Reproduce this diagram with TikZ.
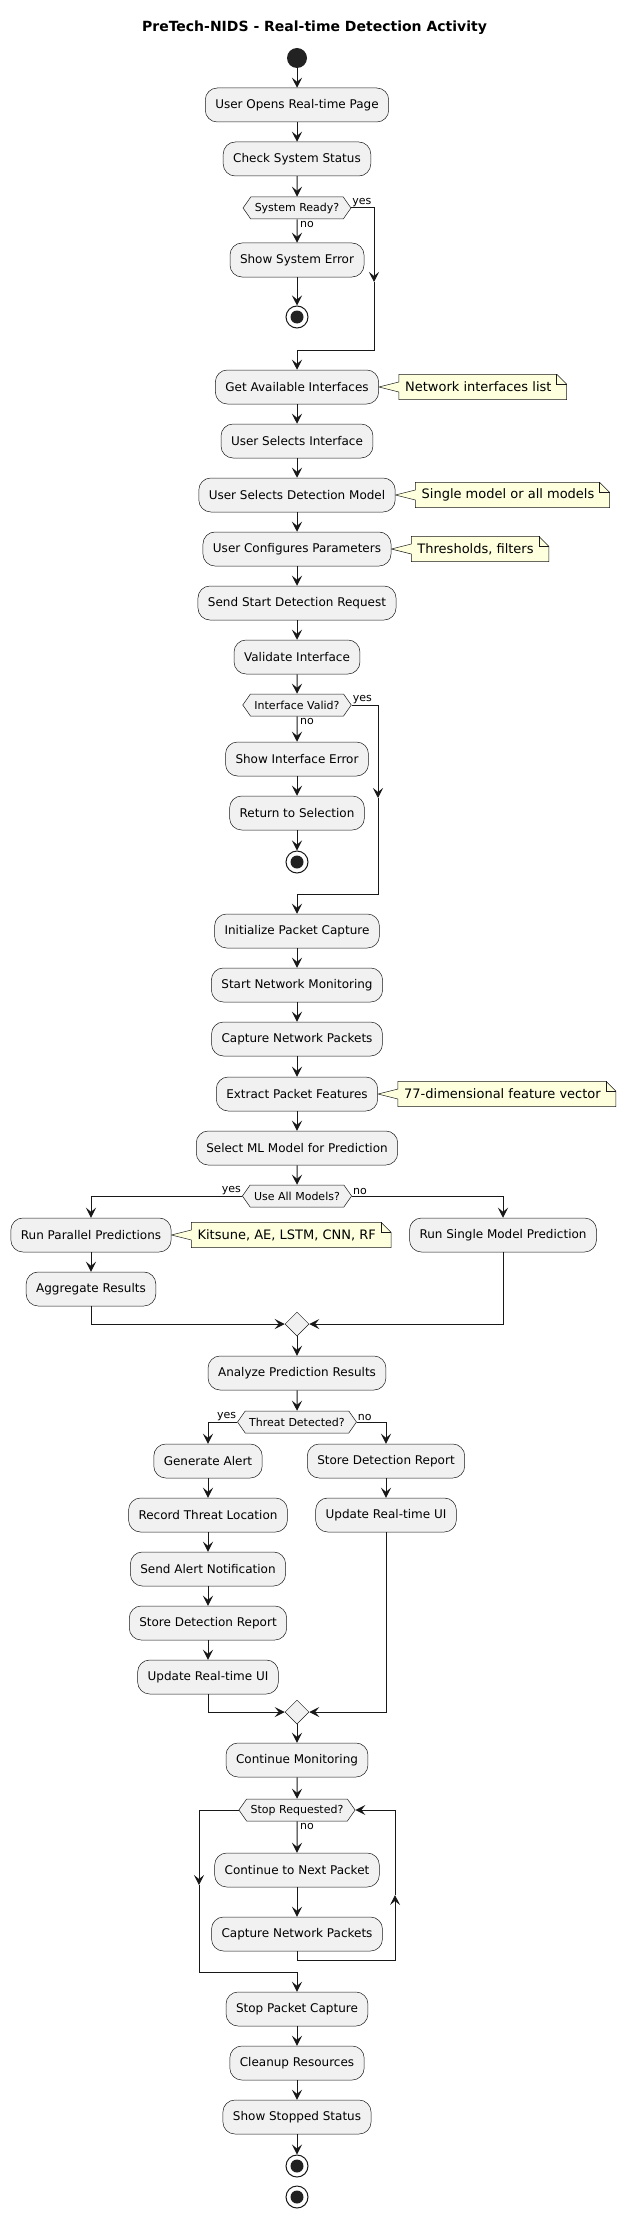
\documentclass[tikz,border=0pt]{standalone}
\usepackage{fontspec}
\setmainfont{DejaVu Sans}
\usepackage{xcolor}
\usepackage{tikz}
\usetikzlibrary{shapes.geometric, shapes.symbols, arrows.meta, positioning, backgrounds}
\definecolor{actfill}{HTML}{F1F1F1}
\definecolor{linec}{HTML}{181818}
\definecolor{notefill}{HTML}{FEFFDD}
\definecolor{dotc}{HTML}{222222}
\tikzstyle{arrow} = [draw=linec, line width=1pt, -{Stealth[length=10pt, width=10pt, inset=4pt]}]
\tikzstyle{line} = [draw=linec, line width=1pt]
\tikzstyle{act} = [rectangle, draw=linec, line width=0.5pt, fill=actfill, rounded corners=12pt, minimum height=34pt, inner xsep=10pt, font=\fontsize{12}{14}\selectfont]
\tikzstyle{cond} = [signal, signal to=west and east, signal pointer angle=110, draw=linec, line width=0.5pt, fill=actfill, minimum height=22pt, inner xsep=4pt, inner ysep=0pt, font=\fontsize{11}{13}\selectfont]
\tikzstyle{merge} = [diamond, draw=linec, line width=0.5pt, fill=actfill, minimum width=24pt, minimum height=24pt, inner sep=0pt]
\tikzstyle{startdot} = [circle, fill=dotc, minimum size=20pt, inner sep=0pt]
\tikzstyle{enddot} = [circle, draw=linec, line width=1pt, fill=white, minimum size=22pt, inner sep=0pt, path picture={\fill[dotc] (path picture bounding box.center) circle (6.5pt);}]
\tikzstyle{lbl} = [inner sep=1pt, font=\fontsize{11}{13}\selectfont]
\tikzstyle{note} = [inner xsep=6pt, inner ysep=0pt, minimum height=25pt, font=\fontsize{13}{15}\selectfont]
\tikzstyle{notel} = [draw=linec, line width=0.5pt, fill=notefill]
% note outline with folded corner, pointing at the activity
\newcommand{\drawnote}[2]{%
  \path[notel] (#1.north west) -- ([xshift=-1pt]#1.north east) -- ([xshift=9pt,yshift=-10pt]#1.north east)
    -- ([xshift=9pt]#1.south east) -- (#1.south west) -- ([yshift=-5pt]#1.west) -- (#2.east)
    -- ([yshift=5pt]#1.west) -- cycle;
  \draw[draw=linec, line width=0.5pt] ([xshift=-1pt]#1.north east) -- ++(0,-10pt) -- ++(10pt,0);
}

\begin{document}
\begin{tikzpicture}[x=1pt, y=1pt, node distance=54pt]
    \useasboundingbox (0,0) rectangle (629,-2218);
    \node (ttl) [font=\fontsize{14}{16}\selectfont\bfseries] at (314.5,-28) {PreTech-NIDS - Real-time Detection Activity};

    % start and system check
    \node (start) [startdot] at (297,-58) {};
    \node (op)   [act] at (297,-105) {User Opens Real-time Page};
    \node (chk)  [act, below of=op] {Check System Status};
    \node (rdy)  [cond, below of=chk, yshift=5pt] {System Ready?};
    \node (serr) [act, below of=rdy, yshift=2pt] {Show System Error};
    \node (end1) [enddot, below of=serr, yshift=-3pt] {};

    % interface and model selection
    \node (gai) [act] at (297,-387) {Get Available Interfaces};
    \node (usi) [act, below of=gai] {User Selects Interface};
    \node (usm) [act, below of=usi] {User Selects Detection Model};
    \node (ucp) [act, below of=usm] {User Configures Parameters};
    \node (ssd) [act, below of=ucp] {Send Start Detection Request};
    \node (vi)  [act, below of=ssd] {Validate Interface};
    \node (ivd) [cond, below of=vi, yshift=6pt] {Interface Valid?};
    \node (ierr)[act, below of=ivd] {Show Interface Error};
    \node (ret) [act, below of=ierr] {Return to Selection};
    \node (end2)[enddot, below of=ret, yshift=5pt] {};

    % capture and prediction
    \node (ipc) [act] at (297,-931) {Initialize Packet Capture};
    \node (snm) [act, below of=ipc] {Start Network Monitoring};
    \node (cnp) [act, below of=snm] {Capture Network Packets};
    \node (epf) [act, below of=cnp, yshift=-1pt] {Extract Packet Features};
    \node (sel) [act, below of=epf] {Select ML Model for Prediction};
    \node (uam) [cond, below of=sel, yshift=6pt] {Use All Models?};
    \node (rpp) [act] at (91,-1235) {Run Parallel Predictions};
    \node (rsm) [act] at (503,-1235) {Run Single Model Prediction};
    \node (agg) [act, below of=rpp] {Aggregate Results};
    \node (mg1) [merge] at (297,-1324) {};

    % threat handling
    \node (apr) [act] at (297,-1373) {Analyze Prediction Results};
    \node (thr) [cond, below of=apr, yshift=5pt] {Threat Detected?};
    \node (gal) [act] at (208,-1461) {Generate Alert};
    \node (sdr) [act] at (386,-1461) {Store Detection Report};
    \node (rtl) [act, below of=gal] {Record Threat Location};
    \node (uui) [act, below of=sdr] {Update Real-time UI};
    \node (san) [act, below of=rtl] {Send Alert Notification};
    \node (sdl) [act, below of=san] {Store Detection Report};
    \node (uul) [act, below of=sdl] {Update Real-time UI};
    \node (mg2) [merge] at (297,-1712) {};

    % monitoring loop and shutdown
    \node (cmo) [act] at (297,-1760) {Continue Monitoring};
    \node (srq) [cond, below of=cmo, yshift=4pt] {Stop Requested?};
    \node (cnx) [act, below of=srq, yshift=-6pt] {Continue to Next Packet};
    \node (cnp2)[act, below of=cnx, yshift=-10pt] {Capture Network Packets};
    \node (spc) [act] at (297,-2009) {Stop Packet Capture};
    \node (clr) [act, below of=spc] {Cleanup Resources};
    \node (sss) [act, below of=clr] {Show Stopped Status};
    \node (end3)[enddot, below of=sss, yshift=5pt] {};
    \node (end4)[enddot, below of=end3, yshift=23pt] {};

    % notes
    \node (n1) [note, anchor=west] at ([xshift=20pt]gai.east) {Network interfaces list};
    \node (n2) [note, anchor=west] at ([xshift=20pt]usm.east) {Single model or all models};
    \node (n3) [note, anchor=west] at ([xshift=20pt]ucp.east) {Thresholds, filters};
    \node (n4) [note, anchor=west] at ([xshift=20pt]epf.east) {77-dimensional feature vector};
    \node (n5) [note, anchor=west] at ([xshift=20pt]rpp.east) {Kitsune, AE, LSTM, CNN, RF};
    \begin{scope}[on background layer]
        \drawnote{n1}{gai}
        \drawnote{n2}{usm}
        \drawnote{n3}{ucp}
        \drawnote{n4}{epf}
        \drawnote{n5}{rpp}
    \end{scope}

    \coordinate (y1) at (374,-282);
    \coordinate (j1) at (297,-350);
    \coordinate (y2) at (378,-798);
    \coordinate (j2) at (297,-894);
    \coordinate (l1) at (199,-1885);
    \coordinate (l2) at (297,-1972);
    \coordinate (r1) at (395,-1895);
    \coordinate (r2) at (395,-1960);

    \draw [arrow] (start) -- (op);
    \draw [arrow] (op) -- (chk);
    \draw [arrow] (chk) -- (rdy);
    \draw [arrow] (rdy) -- (serr);
    \draw [arrow] (serr) -- (end1);
    \draw [arrow] (rdy.east) -| (y1);
    \draw [line] (y1) |- (j1);
    \draw [arrow] (j1) -- (gai);
    \node [lbl, anchor=south west] at (rdy.east) {yes};
    \node [lbl, anchor=north west, xshift=2pt, yshift=-1pt] at (rdy.south) {no};

    \draw [arrow] (gai) -- (usi);
    \draw [arrow] (usi) -- (usm);
    \draw [arrow] (usm) -- (ucp);
    \draw [arrow] (ucp) -- (ssd);
    \draw [arrow] (ssd) -- (vi);
    \draw [arrow] (vi) -- (ivd);
    \draw [arrow] (ivd) -- (ierr);
    \draw [arrow] (ierr) -- (ret);
    \draw [arrow] (ret) -- (end2);
    \draw [arrow] (ivd.east) -| (y2);
    \draw [line] (y2) |- (j2);
    \draw [arrow] (j2) -- (ipc);
    \node [lbl, anchor=south west] at (ivd.east) {yes};
    \node [lbl, anchor=north west, xshift=2pt, yshift=-1pt] at (ivd.south) {no};

    \draw [arrow] (ipc) -- (snm);
    \draw [arrow] (snm) -- (cnp);
    \draw [arrow] (cnp) -- (epf);
    \draw [arrow] (epf) -- (sel);
    \draw [arrow] (sel) -- (uam);
    \draw [arrow] (uam.west) -| (rpp);
    \draw [arrow] (uam.east) -| (rsm);
    \node [lbl, anchor=south east] at (uam.west) {yes};
    \node [lbl, anchor=south west] at (uam.east) {no};
    \draw [arrow] (rpp) -- (agg);
    \draw [arrow] (agg) |- (mg1);
    \draw [arrow] (rsm) |- (mg1);
    \draw [arrow] (mg1) -- (apr);

    \draw [arrow] (apr) -- (thr);
    \draw [arrow] (thr.west) -| (gal);
    \draw [arrow] (thr.east) -| (sdr);
    \node [lbl, anchor=south east] at (thr.west) {yes};
    \node [lbl, anchor=south west] at (thr.east) {no};
    \draw [arrow] (gal) -- (rtl);
    \draw [arrow] (rtl) -- (san);
    \draw [arrow] (san) -- (sdl);
    \draw [arrow] (sdl) -- (uul);
    \draw [arrow] (sdr) -- (uui);
    \draw [arrow] (uul) |- (mg2);
    \draw [arrow] (uui) |- (mg2);
    \draw [arrow] (mg2) -- (cmo);

    \draw [arrow] (cmo) -- (srq);
    \draw [arrow] (srq) -- (cnx);
    \node [lbl, anchor=north west, xshift=2pt, yshift=-1pt] at (srq.south) {no};
    \draw [arrow] (cnx) -- (cnp2);
    \draw [arrow] (cnp2.south) |- (r2) -- (r1);
    \draw [arrow] (r1) |- (srq.east);
    \draw [arrow] (srq.west) -| (l1);
    \draw [line] (l1) |- (l2);
    \draw [arrow] (l2) -- (spc);
    \draw [arrow] (spc) -- (clr);
    \draw [arrow] (clr) -- (sss);
    \draw [arrow] (sss) -- (end3);
\end{tikzpicture}
\end{document}
